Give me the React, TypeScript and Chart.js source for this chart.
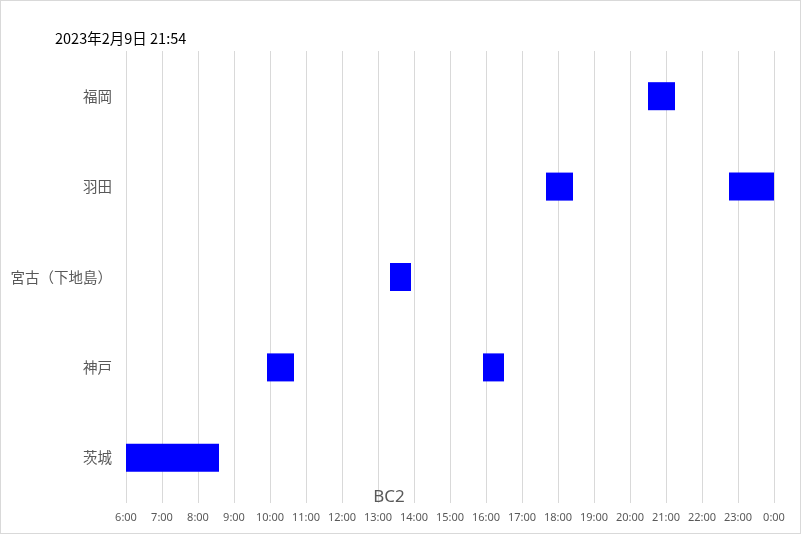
import React, { useEffect, useRef } from "react";
import { Chart, registerables } from "chart.js";

Chart.register(...registerables);

const chartTitle = "2023年2月9日 21:54";
const axisTitle = "BC2";
const categories = ["福岡", "羽田", "宮古（下地島）", "神戸", "茨城"];
// first flight block per category (start, end)
const firstStart = ["20:30", "17:40", "13:20", "9:55", "6:00"];
const firstEnd = ["21:15", "18:25", "13:55", "10:40", "8:35"];
// second flight block per category (null where none)
const secondStart = [null, "22:45", null, "15:55", null];
const secondEnd = [null, "24:00", null, "16:30", null];
const axisMinHour = 6;
const axisMaxHour = 24;

function toHours(t: string | null): number | null {
  if (t === null) return null;
  const [h, m] = t.split(":").map(Number);
  return h + m / 60;
}

function pairs(starts: (string | null)[], ends: (string | null)[]) {
  return starts.map((s, i) => {
    const a = toHours(s);
    const b = toHours(ends[i]);
    return a === null || b === null ? null : [a, b];
  });
}

const decorPlugin = {
  id: "decor",
  afterDraw(chart: any) {
    const ctx = chart.ctx;
    ctx.save();
    ctx.strokeStyle = "#d9d9d9";
    ctx.lineWidth = 1;
    ctx.strokeRect(0.5, 0.5, chart.width - 1, chart.height - 1);
    ctx.fillStyle = "#000000";
    ctx.font = '14.5px "Noto Sans CJK JP", "Noto Sans", sans-serif';
    ctx.textBaseline = "middle";
    ctx.textAlign = "left";
    ctx.fillText(chartTitle, 55, 38);
    ctx.fillStyle = "#595959";
    ctx.font = '17px "Noto Sans", "DejaVu Sans", sans-serif';
    ctx.textAlign = "center";
    ctx.fillText(axisTitle, 389, 497);
    ctx.restore();
  },
};

export default function App() {
  const ref = useRef<HTMLCanvasElement>(null);
  useEffect(() => {
    if (!ref.current) return;
    const chart = new Chart(ref.current, {
      type: "bar",
      data: {
        labels: categories,
        datasets: [
          {
            data: pairs(firstStart, firstEnd) as any,
            backgroundColor: "#0000ff",
            borderWidth: 0,
            grouped: false,
            barPercentage: 0.31,
            categoryPercentage: 1,
          } as any,
          {
            data: pairs(secondStart, secondEnd) as any,
            backgroundColor: "#0000ff",
            borderWidth: 0,
            grouped: false,
            barPercentage: 0.31,
            categoryPercentage: 1,
          } as any,
        ],
      },
      options: {
        indexAxis: "y",
        responsive: false,
        animation: false,
        layout: { padding: { top: 51, right: 27, left: 0, bottom: 0 } },
        plugins: {
          legend: { display: false },
          tooltip: { enabled: false },
          title: { display: false },
        },
        scales: {
          x: {
            type: "linear",
            min: axisMinHour,
            max: axisMaxHour,
            border: { display: false },
            grid: { color: "#d9d9d9", lineWidth: 1, drawTicks: false },
            ticks: {
              stepSize: 1,
              autoSkip: false,
              maxRotation: 0,
              padding: 8,
              color: "#595959",
              font: { size: 11, family: '"Noto Sans", "DejaVu Sans", sans-serif' },
              callback: (v: any) => `${Number(v) % 24}:00`,
            },
            afterFit: (s: any) => {
              s.height = 31;
            },
          },
          y: {
            border: { display: false },
            grid: { display: false, drawTicks: false },
            ticks: {
              padding: 14,
              color: "#595959",
              font: { size: 14.5, family: '"Noto Sans CJK JP", "Noto Sans", sans-serif' },
            },
            afterFit: (s: any) => {
              s.width = 126;
            },
          },
        },
      },
      plugins: [decorPlugin],
    } as any);
    return () => chart.destroy();
  }, []);
  return (
    <div style={{ position: "absolute", left: 0, top: 0, width: 801, height: 534 }}>
      <canvas ref={ref} width={801} height={534} />
    </div>
  );
}
